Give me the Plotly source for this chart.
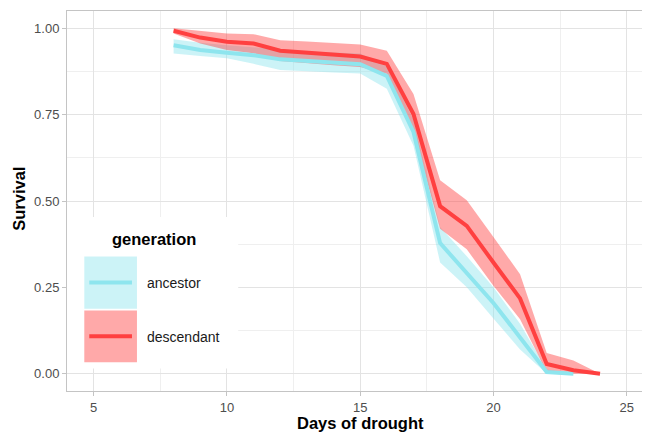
import plotly.graph_objects as go

# ---- data ----
days_anc = [8, 9, 10, 11, 12, 13, 14, 15, 16, 17, 18, 19, 20, 21, 22, 23]
surv_anc = [0.951, 0.937, 0.929, 0.922, 0.910, 0.905, 0.900, 0.896, 0.862, 0.700, 0.378, 0.293, 0.205, 0.105, 0.005, 0.000]
low_anc = [0.927, 0.920, 0.913, 0.897, 0.879, 0.875, 0.872, 0.869, 0.825, 0.660, 0.322, 0.250, 0.160, 0.070, 0.000, 0.000]
up_anc = [0.968, 0.958, 0.951, 0.945, 0.937, 0.933, 0.930, 0.927, 0.890, 0.735, 0.425, 0.340, 0.250, 0.145, 0.012, 0.000]

days_des = [8, 9, 10, 11, 12, 13, 14, 15, 16, 17, 18, 19, 20, 21, 22, 23, 24]
surv_des = [0.993, 0.973, 0.961, 0.956, 0.935, 0.930, 0.925, 0.918, 0.897, 0.752, 0.485, 0.428, 0.322, 0.218, 0.028, 0.010, 0.000]
low_des = [0.985, 0.956, 0.937, 0.928, 0.905, 0.899, 0.893, 0.888, 0.868, 0.700, 0.420, 0.360, 0.255, 0.158, 0.005, 0.000, 0.000]
up_des = [1.000, 0.992, 0.985, 0.983, 0.965, 0.962, 0.958, 0.953, 0.935, 0.810, 0.560, 0.502, 0.396, 0.288, 0.060, 0.038, 0.000]

x_ticks = [5, 10, 15, 20, 25]
y_ticks = [0.00, 0.25, 0.50, 0.75, 1.00]
groups = ["ancestor", "descendant"]

col_anc = "#8EE5EE"
col_des = "#FF4040"
fill_anc = "rgba(142,229,238,0.45)"
fill_des = "rgba(255,64,64,0.45)"

# page body has an 8px margin; figure is sized/offset to compensate
OFF = 8
W, H = 650 - OFF, 435 - OFF
ML, MR, MT, MB = 66.7 - OFF, 2, 10.6 - OFF, 43.5
pw, ph = W - ML - MR, H - MT - MB


def px(x):
    return (x - OFF - ML) / pw


def py(y):
    return (H - MB - (y - OFF)) / ph


fig = go.Figure()

for d, lo, up, col in [(days_anc, low_anc, up_anc, fill_anc), (days_des, low_des, up_des, fill_des)]:
    fig.add_trace(go.Scatter(
        x=list(d) + list(d)[::-1], y=list(up) + list(lo)[::-1],
        fill="toself", fillcolor=col, line=dict(width=0), mode="lines",
        hoverinfo="skip", showlegend=False))

for d, s, col, name in [(days_anc, surv_anc, col_anc, groups[0]), (days_des, surv_des, col_des, groups[1])]:
    fig.add_trace(go.Scatter(x=d, y=s, mode="lines", line=dict(color=col, width=4),
                             name=name, showlegend=False))

grid_major = "#e3e3e3"
grid_minor = "#efefef"
axis_common = dict(
    showgrid=True, gridcolor=grid_major, gridwidth=1, automargin=False,
    zeroline=False, showline=True, mirror=True, linecolor="#c4c4c4", linewidth=1,
    ticks="outside", ticklen=4, tickcolor="#c4c4c4", tickwidth=1,
    tickfont=dict(size=13, color="#4d4d4d"),
)

fig.update_xaxes(
    range=[4, 25.8], tickvals=x_ticks, ticktext=[str(v) for v in x_ticks],
    minor=dict(showgrid=True, gridcolor=grid_minor, gridwidth=0.6, tickvals=[7.5, 12.5, 17.5, 22.5], ticks=""),
    **axis_common)
fig.update_yaxes(
    range=[-0.05, 1.05], tickvals=y_ticks, ticktext=[f"{v:.2f}" for v in y_ticks],
    minor=dict(showgrid=True, gridcolor=grid_minor, gridwidth=0.6, tickvals=[0.125, 0.375, 0.625, 0.875], ticks=""),
    **axis_common)

# ---- manual legend (ggplot-style large keys) ----
shapes = [
    dict(type="rect", xref="paper", yref="paper", x0=px(66.7), x1=px(238), y0=py(369), y1=py(217),
         fillcolor="white", line=dict(width=0), layer="above"),
    dict(type="rect", xref="paper", yref="paper", x0=px(84), x1=px(136.7), y0=py(309), y1=py(256.7),
         fillcolor=fill_anc, line=dict(width=0), layer="above"),
    dict(type="rect", xref="paper", yref="paper", x0=px(84), x1=px(136.7), y0=py(362.7), y1=py(310.7),
         fillcolor=fill_des, line=dict(width=0), layer="above"),
    dict(type="line", xref="paper", yref="paper", x0=px(89), x1=px(131.7), y0=py(282.7), y1=py(282.7),
         line=dict(color=col_anc, width=4), layer="above"),
    dict(type="line", xref="paper", yref="paper", x0=px(89), x1=px(131.7), y0=py(336.7), y1=py(336.7),
         line=dict(color=col_des, width=4), layer="above"),
]
annotations = [
    dict(text="<b>generation</b>", xref="paper", yref="paper", x=px(154), y=py(239.5),
         xanchor="center", yanchor="middle", showarrow=False, font=dict(size=16.5, color="black")),
    dict(text=groups[0], xref="paper", yref="paper", x=px(145), y=py(283),
         xanchor="left", yanchor="middle", showarrow=False, font=dict(size=14, color="#1a1a1a")),
    dict(text=groups[1], xref="paper", yref="paper", x=px(145), y=py(337),
         xanchor="left", yanchor="middle", showarrow=False, font=dict(size=14, color="#1a1a1a")),
    # axis titles
    dict(text="<b>Days of drought</b>", xref="paper", yref="paper", x=px(360), y=py(423.5),
         xanchor="center", yanchor="middle", showarrow=False, font=dict(size=16.5, color="black")),
    dict(text="<b>Survival</b>", xref="paper", yref="paper", x=px(18.5), y=py(199),
         xanchor="center", yanchor="middle", textangle=-90, showarrow=False,
         font=dict(size=16.5, color="black")),
]

fig.update_layout(
    width=W, height=H,
    margin=dict(l=ML, r=MR, t=MT, b=MB, pad=0),
    paper_bgcolor="white", plot_bgcolor="white",
    font=dict(family="Liberation Sans, Arial, sans-serif"),
    shapes=shapes, annotations=annotations,
    showlegend=False,
)

fig.write_html("out.html")
